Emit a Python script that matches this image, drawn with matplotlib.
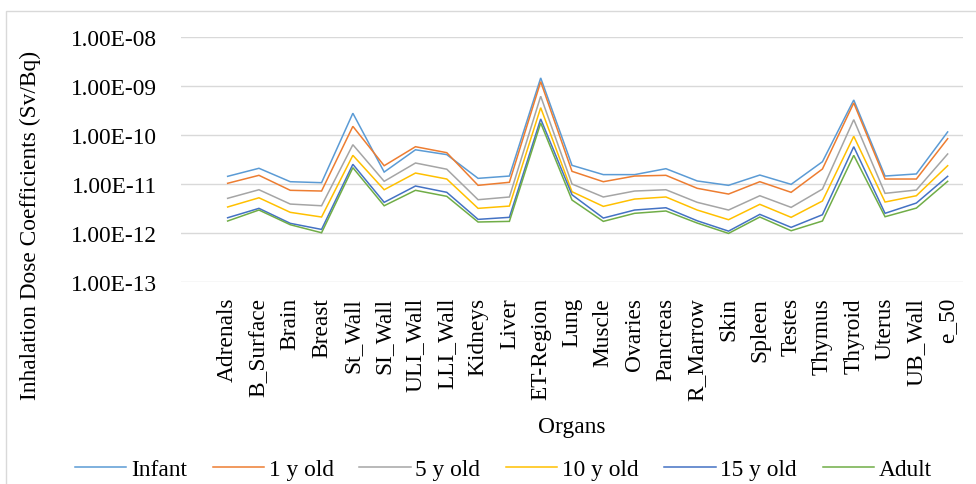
import matplotlib
matplotlib.use("Agg")
import matplotlib.pyplot as plt
from matplotlib.ticker import FixedLocator, FuncFormatter, NullLocator
from matplotlib.patches import Rectangle

organs = ["Adrenals", "B_Surface", "Brain", "Breast", "St_Wall", "SI_Wall",
          "ULI_Wall", "LLI_Wall", "Kidneys", "Liver", "ET-Region", "Lung",
          "Muscle", "Ovaries", "Pancreas", "R_Marrow", "Skin", "Spleen",
          "Testes", "Thymus", "Thyroid", "Uterus", "UB_Wall", "e_50"]

infant = [1.43e-11, 2.09e-11, 1.11e-11, 1.06e-11, 2.80e-10, 1.75e-11,
          5.00e-11, 3.98e-11, 1.30e-11, 1.45e-11, 1.48e-09, 2.40e-11,
          1.55e-11, 1.55e-11, 2.05e-11, 1.15e-11, 9.35e-12, 1.52e-11,
          9.80e-12, 2.85e-11, 5.23e-10, 1.45e-11, 1.60e-11, 1.16e-10]
age_1 = [1.03e-11, 1.50e-11, 7.40e-12, 7.15e-12, 1.51e-10, 2.36e-11,
         5.78e-11, 4.36e-11, 9.35e-12, 1.08e-11, 1.24e-09, 1.81e-11,
         1.11e-11, 1.45e-11, 1.50e-11, 8.13e-12, 6.20e-12, 1.11e-11,
         6.73e-12, 2.02e-11, 4.55e-10, 1.26e-11, 1.26e-11, 8.43e-11]
age_5 = [5.07e-12, 7.60e-12, 3.87e-12, 3.57e-12, 6.35e-11, 1.13e-11,
         2.68e-11, 2.00e-11, 4.75e-12, 5.40e-12, 6.24e-10, 9.96e-12,
         5.40e-12, 7.15e-12, 7.60e-12, 4.20e-12, 2.92e-12, 5.73e-12,
         3.31e-12, 7.85e-12, 2.07e-10, 6.41e-12, 7.50e-12, 4.10e-11]
age_10 = [3.37e-12, 5.20e-12, 2.62e-12, 2.10e-12, 3.85e-11, 7.60e-12,
          1.67e-11, 1.26e-11, 3.16e-12, 3.52e-12, 3.64e-10, 6.92e-12,
          3.47e-12, 4.90e-12, 5.40e-12, 2.92e-12, 1.85e-12, 3.82e-12,
          2.07e-12, 4.47e-12, 9.44e-11, 4.26e-12, 5.73e-12, 2.36e-11]
age_15 = [2.03e-12, 3.16e-12, 1.56e-12, 1.17e-12, 2.52e-11, 4.20e-12,
          9.06e-12, 6.73e-12, 1.88e-12, 2.07e-12, 2.14e-10, 6.00e-12,
          2.00e-12, 2.92e-12, 3.25e-12, 1.76e-12, 1.08e-12, 2.38e-12,
          1.29e-12, 2.34e-12, 5.78e-11, 2.50e-12, 4.06e-12, 1.43e-11]
adult = [1.74e-12, 2.92e-12, 1.46e-12, 1.00e-12, 2.15e-11, 3.57e-12,
         7.40e-12, 5.57e-12, 1.66e-12, 1.71e-12, 1.77e-10, 4.68e-12,
         1.71e-12, 2.50e-12, 2.79e-12, 1.58e-12, 9.70e-13, 2.10e-12,
         1.10e-12, 1.74e-12, 3.85e-11, 2.13e-12, 3.20e-12, 1.13e-11]

series_names = ["Infant", "1 y old", "5 y old", "10 y old", "15 y old", "Adult"]
series_values = [infant, age_1, age_5, age_10, age_15, adult]
colors = ["#5B9BD5", "#ED7D31", "#A5A5A5", "#FFC000", "#4472C4", "#70AD47"]
y_ticks = [1e-13, 1e-12, 1e-11, 1e-10, 1e-9, 1e-8]

plt.rcParams["font.family"] = ["Liberation Serif", "DejaVu Serif"]
FS = 16.8

fig = plt.figure(figsize=(9.76, 4.85), dpi=100)
W, H = 976, 485
ax = fig.add_axes([181 / W, 1 - 282.6 / H, (963 - 181) / W, (282.6 - 38.4) / H])

x = list(range(len(organs)))
for name, vals, c in zip(series_names, series_values, colors):
    ax.plot(x, vals, color=c, lw=1.1, label=name, solid_joinstyle="miter")

ax.set_yscale("log")
ax.set_ylim(1e-13, 1e-8)
ax.yaxis.set_major_locator(FixedLocator(y_ticks))
ax.yaxis.set_minor_locator(NullLocator())
ax.yaxis.set_major_formatter(FuncFormatter(lambda v, p: f"{v:.2E}"))
ax.set_xlim(-1.49, 23.49)
ax.set_xticks(x)
ax.set_xticklabels(organs, rotation=90, fontsize=FS)
ax.tick_params(axis="x", length=0, pad=11)
ax.tick_params(axis="y", length=0, pad=17, labelsize=FS)
ax.grid(axis="y", color="#D9D9D9", lw=1.0)
ax.set_axisbelow(True)
for s in ax.spines.values():
    s.set_visible(False)

fig.text(572 / W, 1 - 428 / H, "Organs", ha="center", va="center", fontsize=FS)
fig.text(30 / W, 1 - 225 / H, "Inhalation Dose Coefficients (Sv/Bq)",
         rotation=90, ha="center", va="center", fontsize=FS)

fig.legend(loc="center", bbox_to_anchor=(503.5 / W, 1 - 470 / H), ncol=6,
           frameon=False, fontsize=FS, handlelength=2.2, handletextpad=0.2,
           columnspacing=1.1)

fig.add_artist(Rectangle((6 / W, -0.1), 1.2, 1.1 - 11.7 / H,
                         transform=fig.transFigure, fill=False,
                         edgecolor="#D9D9D9", lw=1.0))

fig.savefig("out.png", dpi=100)
